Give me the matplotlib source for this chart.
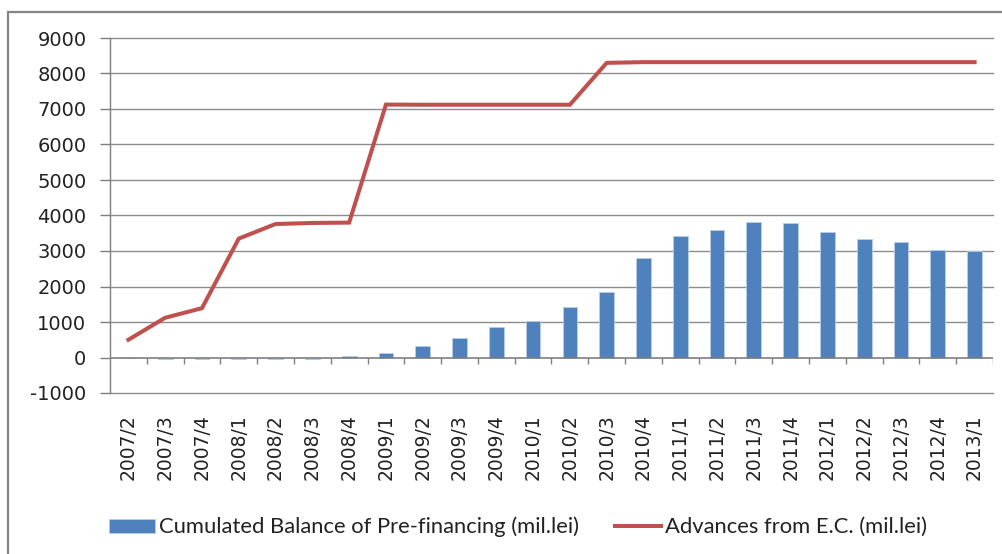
import matplotlib.pyplot as plt
import numpy as np
from matplotlib.patches import Rectangle

# data
quarters = ["2007/2", "2007/3", "2007/4", "2008/1", "2008/2", "2008/3", "2008/4",
            "2009/1", "2009/2", "2009/3", "2009/4", "2010/1", "2010/2", "2010/3",
            "2010/4", "2011/1", "2011/2", "2011/3", "2011/4", "2012/1", "2012/2",
            "2012/3", "2012/4", "2013/1"]
balance = [0, -30, -30, -30, -30, -30, 40,
           130, 330, 545, 855, 1035, 1410, 1850,
           2815, 3420, 3605, 3810, 3780, 3540, 3350,
           3255, 3040, 2995]
advances = [500, 1120, 1390, 3350, 3760, 3790, 3800,
            7125, 7120, 7120, 7120, 7120, 7120, 8300,
            8320, 8320, 8320, 8320, 8320, 8320, 8320,
            8320, 8320, 8320]
yticks = list(range(-1000, 9001, 1000))

BLUE = "#4F81BD"
RED = "#C0504D"
GRID = "#8C8C8C"

fig = plt.figure(figsize=(10.03, 5.54), dpi=100)
# outer chart frame (runs off the right/bottom edge like the reference)
fig.patches.append(Rectangle((8 / 1003, -0.1), 1.2, 1.1 - 12 / 554,
                             transform=fig.transFigure, fill=False,
                             edgecolor="#858585", linewidth=1.6))

ax = fig.add_axes([110 / 1003, 1 - 393 / 554, 883 / 1003, 355 / 554])
x = np.arange(len(quarters))

bars = ax.bar(x, balance, width=0.4, color=BLUE, edgecolor="#B9CDE5",
              linewidth=0.6, zorder=3)
line, = ax.plot(x, advances, color=RED, linewidth=2.9, solid_joinstyle="miter",
                zorder=4)

ax.set_xlim(-0.5, len(quarters) - 0.5)
ax.set_ylim(-1000, 9000)

for v in yticks:
    if v != 0:
        ax.axhline(v, color=GRID, linewidth=1.0, zorder=1, clip_on=False)
ax.axhline(0, color="#7F7F7F", linewidth=1.2, zorder=5)
# category separator ticks below the zero line
ax.vlines(np.arange(len(quarters)) + 0.5, -170, 0, color="#7F7F7F",
          linewidth=1.0, zorder=5)

for side in ["top", "right", "bottom"]:
    ax.spines[side].set_visible(False)
ax.spines["left"].set_color("#7F7F7F")
ax.spines["left"].set_linewidth(1.0)

ax.set_yticks(yticks)
ax.set_yticklabels([str(v) for v in yticks])
ax.tick_params(axis="y", length=7, width=1.0, color="#7F7F7F", labelsize=14,
               pad=10, labelcolor="#222222")
ax.set_xticks(x)
ax.set_xticklabels(quarters, rotation=90)
ax.tick_params(axis="x", length=0, labelsize=13.5, pad=15, labelcolor="#222222")

leg = fig.legend([bars, line],
                 ["Cumulated Balance of Pre-financing (mil.lei)",
                  "Advances from E.C. (mil.lei)"],
                 loc="center left", bbox_to_anchor=(98 / 1003, 1 - 527 / 554),
                 ncol=2, frameon=False, handlelength=2.1, handleheight=0.6,
                 handletextpad=0.2, columnspacing=1.6, borderpad=0,
                 prop={"family": "Lato", "size": 15.8})
for t in leg.get_texts():
    t.set_color("#222222")

fig.savefig("out.png", dpi=100)
